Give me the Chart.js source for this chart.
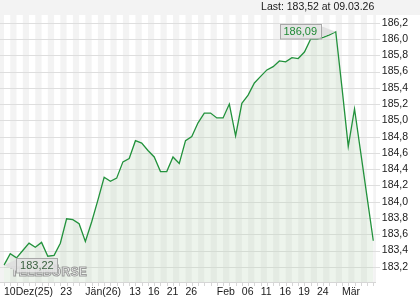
<!DOCTYPE html>
<html>
<head>
<meta charset="utf-8">
<script src="https://cdn.jsdelivr.net/npm/chart.js@4"></script>
<style>
  html, body { margin: 0; padding: 0; background: #fff; }
  #wrap { width: 420px; height: 300px; }
</style>
</head>
<body>
<div id="wrap"><canvas id="kurs"></canvas></div>
<script>
// trading days 10.12.25 - 09.03.26, only some carry a label
var days = ['10Dez(25)','','','','','','','','','23',
            '','','','Jän(26)','','','','','','',
            '13','','','16','','','21','','','26',
            '','','','','Feb','','','','06','',
            '','11','','','16','','','19','','',
            '24','','','','Mär','','','','',''];

var prices = [183.22, 183.36, 183.31, 183.40, 183.49, 183.44, 183.50, 183.33, 183.34, 183.49,
              183.79, 183.78, 183.73, 183.51, 183.75, 184.02, 184.30, 184.25, 184.29, 184.49,
              184.53, 184.75, 184.72, 184.63, 184.55, 184.37, 184.37, 184.55, 184.47, 184.75,
              184.80, 184.97, 185.09, 185.09, 185.03, 185.03, 185.20, 184.81, 185.21, 185.31,
              185.46, 185.54, 185.62, 185.66, 185.73, 185.72, 185.77, 185.76, 185.84, 186.00,
              186.00, 186.02, 186.05, 186.09, 185.40, 184.68, 185.14, 184.60, 184.06, 183.52];

var yTicks = [183.2, 183.4, 183.6, 183.8, 184.0, 184.2, 184.4, 184.6, 184.8,
              185.0, 185.2, 185.4, 185.6, 185.8, 186.0, 186.2];

var lastDate = '09.03.26';

var schrift = '"Liberation Sans", Arial, sans-serif';

function komma(v, d) { return v.toFixed(d).replace('.', ','); }

// stripes, grid, axis ticks behind the line
var hintergrund = {
  id: 'hintergrund',
  beforeDatasetsDraw: function(chart) {
    var c = chart.ctx, a = chart.chartArea;
    var xs = chart.scales.x, ys = chart.scales.y;
    var step = xs.getPixelForValue(1) - xs.getPixelForValue(0);
    var rechts = a.right + 2.7;
    c.save();
    c.fillStyle = '#f3f3f3';
    c.fillRect(0, 0, chart.width, a.top);
    for (var i = -1; i < prices.length; i++) {
      if (i % 2 === 0) continue;
      var x0 = Math.max(0, xs.getPixelForValue(0) + i * step);
      var x1 = Math.min(rechts, xs.getPixelForValue(0) + (i + 1) * step);
      if (x1 > x0) c.fillRect(x0, a.top, x1 - x0, a.bottom - a.top);
    }
    c.strokeStyle = '#dedede';
    c.lineWidth = 1;
    yTicks.forEach(function(t) {
      var y = Math.round(ys.getPixelForValue(t)) + 0.5;
      c.beginPath(); c.moveTo(0, y); c.lineTo(rechts + 4, y); c.stroke();
    });
    var yb = Math.round(a.bottom) + 0.5;
    c.strokeStyle = '#d6d6d6';
    c.beginPath(); c.moveTo(0, yb); c.lineTo(rechts, yb); c.stroke();
    for (var k = 0; k < prices.length; k++) {
      var xt = Math.round(xs.getPixelForValue(k)) + 0.5;
      c.beginPath(); c.moveTo(xt, yb); c.lineTo(xt, yb + 3.5); c.stroke();
    }
    c.restore();
  }
};

function marke(c, text, px, py, links, farbe) {
  var w = 41, h = 14.5;
  var bx = links ? px + 12.4 : px - 15 - w;
  var by = py - h / 2;
  var kante = links ? bx : bx + w;
  c.fillStyle = 'rgba(222,222,222,0.92)';
  c.beginPath();
  c.moveTo(kante, by + 1.5); c.lineTo(px, py); c.lineTo(kante, by + h - 1.5);
  c.closePath(); c.fill();
  c.fillStyle = 'rgba(226,226,226,0.9)';
  c.fillRect(bx, by, w, h);
  c.strokeStyle = '#a8a8a8';
  c.lineWidth = 1;
  c.strokeRect(Math.round(bx) + 0.5, Math.round(by) + 0.5, w, h);
  c.fillStyle = farbe;
  c.font = '11px ' + schrift;
  c.textAlign = 'center';
  c.textBaseline = 'middle';
  c.fillText(text, bx + w / 2, py + 0.5);
}

var beschriftung = {
  id: 'beschriftung',
  afterDatasetsDraw: function(chart) {
    var c = chart.ctx, a = chart.chartArea;
    var xs = chart.scales.x, ys = chart.scales.y;
    c.save();
    // watermark
    c.font = 'bold 12px ' + schrift;
    c.letterSpacing = '0.3px';
    c.textAlign = 'left';
    c.textBaseline = 'alphabetic';
    c.lineWidth = 1;
    c.strokeStyle = 'rgba(140,140,140,0.85)';
    c.fillStyle = 'rgba(255,255,255,0.9)';
    c.fillText('TELEBÖRSE', 11, 276);
    c.strokeText('TELEBÖRSE', 11, 276);
    c.letterSpacing = '0px';

    var iMax = prices.indexOf(Math.max.apply(null, prices));
    var iMin = prices.indexOf(Math.min.apply(null, prices));
    marke(c, komma(prices[iMax], 2), xs.getPixelForValue(iMax), ys.getPixelForValue(prices[iMax]), false, '#1f8a35');
    marke(c, komma(prices[iMin], 2), xs.getPixelForValue(iMin), ys.getPixelForValue(prices[iMin]), true, '#3a603f');

    c.fillStyle = '#1a1a1a';
    c.font = '10.5px ' + schrift;
    c.textAlign = 'right';
    c.textBaseline = 'middle';
    c.fillText('Last: ' + komma(prices[prices.length - 1], 2) + ' at ' + lastDate, a.right + 1, 7.5);
    c.restore();
  }
};

var ctx = document.getElementById('kurs');

var kursChart = new Chart(ctx, {
  type: 'line',
  data: {
    labels: days,
    datasets: [{
      data: prices,
      borderColor: '#22923c',
      borderWidth: 1.3,
      backgroundColor: 'rgba(190,214,186,0.28)',
      fill: 'start',
      pointRadius: 0,
      tension: 0
    }]
  },
  options: {
    responsive: true,
    maintainAspectRatio: false,
    animation: false,
    layout: { padding: { top: 15, left: 3.3, right: 0, bottom: 0 } },
    plugins: { legend: { display: false }, tooltip: { enabled: false } },
    scales: {
      x: {
        type: 'category',
        grid: { display: false, drawTicks: false },
        border: { display: false },
        ticks: {
          autoSkip: false, maxRotation: 0, minRotation: 0,
          align: 'start', padding: 4, color: '#1a1a1a',
          font: { size: 10.5, family: schrift }
        },
        afterFit: function(s) { s.height = 18; }
      },
      y: {
        type: 'linear',
        position: 'right',
        min: 183.013,
        max: 186.295,
        grid: { display: false, drawTicks: false },
        border: { display: false },
        afterBuildTicks: function(s) { s.ticks = yTicks.map(function(v) { return { value: v }; }); },
        ticks: {
          padding: 8.5, color: '#1a1a1a',
          font: { size: 10.5, family: schrift },
          callback: function(v) { return komma(v, 1); }
        },
        afterFit: function(s) { s.width = 46.7; }
      }
    }
  },
  plugins: [hintergrund, beschriftung]
});
</script>
</body>
</html>
